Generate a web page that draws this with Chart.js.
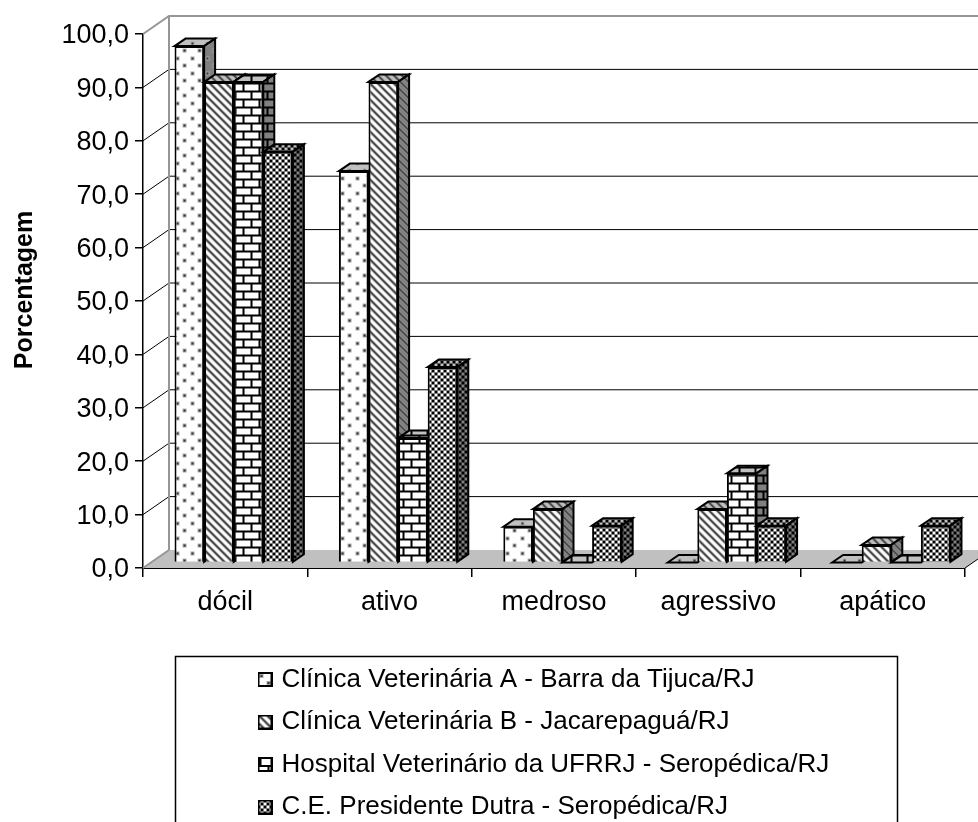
<!DOCTYPE html>
<html lang="pt">
<head>
<meta charset="UTF-8">
<title>Porcentagem</title>
<script src="https://cdn.jsdelivr.net/npm/chart.js"></script>
<style>
    body { margin: 0; background: #fff; }
    canvas { display: block; }
</style>
</head>
<body>
<canvas id="chart" width="978" height="822"></canvas>
<script>
const categories = ['dócil', 'ativo', 'medroso', 'agressivo', 'apático'];
const seriesLabels = [
    'Clínica Veterinária A - Barra da Tijuca/RJ',
    'Clínica Veterinária B - Jacarepaguá/RJ',
    'Hospital Veterinário da UFRRJ - Seropédica/RJ',
    'C.E. Presidente Dutra - Seropédica/RJ'
];
const clinicaA = [96.7, 73.3, 6.7, 0, 0];
const clinicaB = [90, 90, 10, 10, 3.3];
const hospital = [90, 23.3, 0, 16.7, 0];
const presidente = [76.9, 36.6, 6.9, 6.9, 6.9];
const patternNames = ['dots', 'diagonal', 'brick', 'check'];

const FONT = '"Liberation Sans", Arial, sans-serif';
// 3D look: depth of the whole plot, depth of a bar, and how far bars sit behind the axis
const wallDx = 26, wallDy = 18;
const barDx = 11, barDy = 7.5;
const barShiftX = 8.5, barShiftY = 5.5;

// Excel-like hatch fills, built on a small tile
function makePattern(name, bg) {
    const tile = document.createElement('canvas');
    const g = tile.getContext('2d');
    const size = { dots: [15, 15], diagonal: [8, 8], brick: [16, 16], check: [6, 6] }[name];
    tile.width = size[0];
    tile.height = size[1];
    g.fillStyle = bg;
    g.fillRect(0, 0, size[0], size[1]);
    g.fillStyle = '#000';
    if (name === 'dots') {
        [[3, 3], [10, 10]].forEach(d => {
            g.fillStyle = '#aaa';
            g.fillRect(d[0] - 1, d[1] - 1, 4, 4);
            g.fillStyle = '#333';
            g.fillRect(d[0], d[1], 2, 2);
        });
    } else if (name === 'diagonal') {
        for (let y = 0; y < 8; y++) {
            for (let x = 0; x < 8; x++) {
                const d = (x - y + 8) % 8;
                if (d < 2) { g.fillStyle = '#333'; g.fillRect(x, y, 1, 1); }
                if (d === 2 || d === 7) { g.fillStyle = '#999'; g.fillRect(x, y, 1, 1); }
            }
        }
    } else if (name === 'brick') {
        g.fillRect(0, 0, 16, 2);
        g.fillRect(0, 8, 16, 2);
        g.fillRect(2, 2, 2, 6);
        g.fillRect(10, 10, 2, 6);
    } else {
        g.fillRect(0, 0, 3, 3);
        g.fillRect(3, 3, 3, 3);
    }
    return tile;
}

// little framed square for the legend
function makeSwatch(name) {
    const s = document.createElement('canvas');
    s.width = 15;
    s.height = 15;
    const g = s.getContext('2d');
    g.fillStyle = g.createPattern(makePattern(name, '#ffffff'), 'repeat');
    g.fillRect(0, 0, 15, 15);
    g.strokeStyle = '#000';
    g.lineWidth = 2;
    g.strokeRect(1, 1, 13, 13);
    return s;
}

const ctx = document.getElementById('chart').getContext('2d');
const frontFills = patternNames.map(n => ctx.createPattern(makePattern(n, '#ffffff'), 'repeat'));
const topFills = patternNames.map(n => ctx.createPattern(makePattern(n, '#c0c0c0'), 'repeat'));
const sideFills = patternNames.map(n => ctx.createPattern(makePattern(n, '#808080'), 'repeat'));
const swatches = patternNames.map(makeSwatch);

function poly(c, pts, fill, stroke, lw) {
    c.beginPath();
    pts.forEach((p, i) => i ? c.lineTo(p[0], p[1]) : c.moveTo(p[0], p[1]));
    c.closePath();
    if (fill) { c.fillStyle = fill; c.fill(); }
    if (stroke) { c.strokeStyle = stroke; c.lineWidth = lw; c.stroke(); }
}

const box3d = {
    id: 'box3d',
    afterLayout(chart) {
        // legend goes in its framed box, left aligned
        chart.legend.left = 245;
        chart.legend.right = 890;
        chart.legend.top = 650;
    },
    beforeDraw(chart) {
        const c = chart.ctx;
        c.save();
        c.strokeStyle = '#000';
        c.lineWidth = 1.5;
        c.strokeRect(175.5, 656.5, 722, 200);
        // axis title sits above the middle of the axis, so it is placed by hand
        c.translate(25, 290);
        c.rotate(-Math.PI / 2);
        c.font = 'bold 25px ' + FONT;
        c.fillStyle = '#000';
        c.textAlign = 'center';
        c.textBaseline = 'middle';
        c.fillText('Porcentagem', 0, 0);
        c.restore();
    },
    beforeDatasetsDraw(chart) {
        const c = chart.ctx;
        const a = chart.chartArea;
        const y = chart.scales.y;
        c.save();
        // floor
        poly(c, [[a.left, a.bottom], [a.left + wallDx, a.bottom - wallDy],
            [a.right + wallDx, a.bottom - wallDy], [a.right, a.bottom]], '#c0c0c0');
        // gridlines on side wall and back wall
        c.strokeStyle = '#000';
        c.lineWidth = 1;
        y.ticks.forEach(t => {
            const py = y.getPixelForValue(t.value);
            if (t.value === 0 || t.value === 100) return;
            c.beginPath();
            c.moveTo(a.left, py);
            c.lineTo(a.left + wallDx, py - wallDy);
            c.lineTo(a.right + wallDx, py - wallDy);
            c.stroke();
        });
        c.beginPath();
        c.moveTo(a.right, a.bottom);
        c.lineTo(a.right + wallDx, a.bottom - wallDy);
        c.stroke();
        // grey wall edges
        c.strokeStyle = '#969696';
        c.lineWidth = 2;
        c.beginPath();
        c.moveTo(a.left, a.top);
        c.lineTo(a.left + wallDx, a.top - wallDy);
        c.lineTo(a.right + wallDx, a.top - wallDy);
        c.moveTo(a.left + wallDx, a.top - wallDy);
        c.lineTo(a.left + wallDx, a.bottom - wallDy);
        c.moveTo(a.left, a.bottom);
        c.lineTo(a.left + wallDx, a.bottom - wallDy);
        c.stroke();
        c.restore();
    },
    // Chart.js paints the last dataset first; here the left bar must go first
    // so the next one covers its side, so the normal dataset pass is skipped
    beforeDatasetDraw() {
        return false;
    },
    afterDatasetsDraw(chart) {
        const c = chart.ctx;
        c.save();
        c.translate(barShiftX, -barShiftY);
        allSeries.forEach((values, i) => {
            const meta = chart.getDatasetMeta(i);
            meta.controller.draw();
            meta.data.forEach(el => {
                const l = el.x - el.width / 2, r = el.x + el.width / 2;
                poly(c, [[l, el.y], [l + barDx, el.y - barDy], [r + barDx, el.y - barDy], [r, el.y]], topFills[i], '#000', 2);
                if (el.base - el.y > 0.5) {
                    poly(c, [[r, el.y], [r + barDx, el.y - barDy], [r + barDx, el.base - barDy], [r, el.base]], sideFills[i], '#000', 2);
                }
            });
        });
        c.restore();
    }
};

const allSeries = [clinicaA, clinicaB, hospital, presidente];

new Chart(ctx, {
    type: 'bar',
    data: {
        labels: categories,
        datasets: allSeries.map((values, i) => ({
            label: seriesLabels[i],
            data: values,
            backgroundColor: frontFills[i],
            borderColor: '#000',
            borderWidth: 2,
            clip: false,
            barPercentage: 1,
            categoryPercentage: 0.72
        }))
    },
    options: {
        responsive: false,
        animation: false,
        layout: { padding: { top: 34, right: 13 } },
        plugins: {
            tooltip: { enabled: false },
            title: { display: false },
            legend: {
                position: 'bottom',
                align: 'start',
                labels: {
                    color: '#000',
                    font: { family: FONT, size: 26 },
                    usePointStyle: true,
                    pointStyleWidth: 7,  // keeps the square close to its text
                    padding: 16.5,
                    generateLabels(chart) {
                        return seriesLabels.map((text, i) => ({
                            text: text,
                            pointStyle: swatches[i],
                            datasetIndex: i,
                            fontColor: '#000'
                        }));
                    }
                }
            }
        },
        scales: {
            x: {
                afterFit(s) { s.height = 254 - s.chart.legend.height; },
                border: { color: '#000', width: 2 },
                grid: { drawOnChartArea: false, color: '#000', tickLength: 9, lineWidth: 1.5 },
                ticks: { color: '#000', font: { family: FONT, size: 27 }, padding: 9, maxRotation: 0 }
            },
            y: {
                min: 0,
                max: 100,
                afterFit(s) { s.width = 143; },
                border: { color: '#000', width: 1.5 },
                grid: { drawOnChartArea: false, color: '#000', tickLength: 8, lineWidth: 1.5 },
                ticks: {
                    stepSize: 10,
                    color: '#000',
                    font: { family: FONT, size: 27 },
                    padding: 6,
                    labelOffset: 2,
                    callback: v => v.toFixed(1).replace('.', ',')
                }
            }
        }
    },
    plugins: [box3d]
});
</script>
</body>
</html>
